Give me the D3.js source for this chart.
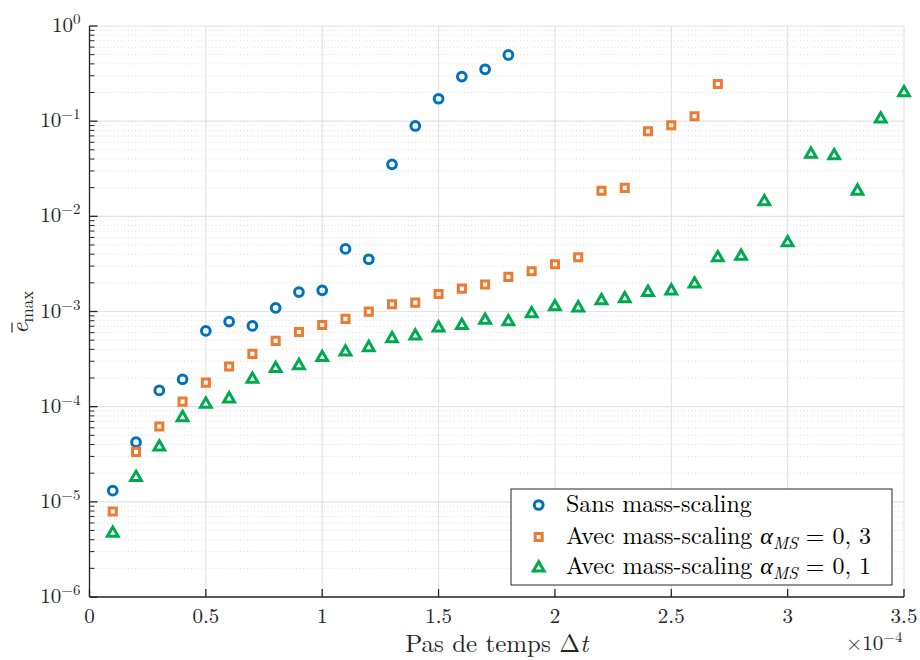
<!DOCTYPE html>
<html><head><meta charset="utf-8">
<script src="https://cdn.jsdelivr.net/npm/d3@7"></script>
<style>
body{margin:0;background:#fff;}
</style></head>
<body><svg id="c" width="920" height="660"></svg>
<script>
// x values in units of 1e-4
const dtSans = [0.1,0.2,0.3,0.4,0.5,0.6,0.7,0.8,0.9,1.0,1.1,1.2,1.3,1.4,1.5,1.6,1.7,1.8];
const eSans  = [1.31e-5,4.24e-5,1.48e-4,1.94e-4,6.25e-4,7.83e-4,7.06e-4,1.09e-3,1.60e-3,1.67e-3,4.55e-3,3.54e-3,0.0352,0.089,0.172,0.294,0.351,0.496];
const dtMS3  = [0.1,0.2,0.3,0.4,0.5,0.6,0.7,0.8,0.9,1.0,1.1,1.2,1.3,1.4,1.5,1.6,1.7,1.8,1.9,2.0,2.1,2.2,2.3,2.4,2.5,2.6,2.7];
const eMS3   = [7.9e-6,3.35e-5,6.18e-5,1.13e-4,1.79e-4,2.64e-4,3.59e-4,4.91e-4,6.1e-4,7.2e-4,8.36e-4,9.97e-4,1.19e-3,1.24e-3,1.53e-3,1.74e-3,1.92e-3,2.31e-3,2.65e-3,3.14e-3,3.72e-3,0.0186,0.0199,0.0783,0.0906,0.1125,0.246];
const dtMS1  = [0.1,0.2,0.3,0.4,0.5,0.6,0.7,0.8,0.9,1.0,1.1,1.2,1.3,1.4,1.5,1.6,1.7,1.8,1.9,2.0,2.1,2.2,2.3,2.4,2.5,2.6,2.7,2.8,2.9,3.0,3.1,3.2,3.3,3.4,3.5];
const eMS1   = [4.8e-6,1.85e-5,3.87e-5,7.87e-5,1.09e-4,1.24e-4,1.99e-4,2.58e-4,2.77e-4,3.37e-4,3.86e-4,4.28e-4,5.32e-4,5.68e-4,6.9e-4,7.3e-4,8.3e-4,8.0e-4,9.7e-4,1.15e-3,1.12e-3,1.33e-3,1.40e-3,1.63e-3,1.69e-3,2.0e-3,3.77e-3,3.90e-3,0.0146,5.42e-3,0.046,0.0445,0.0189,0.108,0.204];
const xTicks = [0,0.5,1,1.5,2,2.5,3,3.5];
const xTickLabels = ["0","0.5","1","1.5","2","2.5","3","3.5"];
const yExps = [0,-1,-2,-3,-4,-5,-6];
const seriesNames = ["Sans mass-scaling","Avec mass-scaling","Avec mass-scaling"];

const FONT = '"Latin Modern Roman", "Liberation Serif", serif';
const svg = d3.select("#c");
const L=89.5, R=904, T=26, B=597;
const x = d3.scaleLinear().domain([0,3.5]).range([L,R]);
const y = d3.scaleLog().domain([1e-6,1]).range([B,T]);

// grid
const g = svg.append("g");
const minorY=[];
for(let e=-6;e<0;e++) for(let k=2;k<=9;k++) minorY.push(k*Math.pow(10,e));
g.selectAll(".my").data(minorY).enter().append("line")
 .attr("x1",L).attr("x2",R).attr("y1",d=>y(d)).attr("y2",d=>y(d))
 .attr("stroke","#d4d4d4").attr("stroke-width",0.8).attr("stroke-dasharray","1,2.5");
g.selectAll(".gy").data(yExps).enter().append("line")
 .attr("x1",L).attr("x2",R).attr("y1",d=>y(Math.pow(10,d))).attr("y2",d=>y(Math.pow(10,d)))
 .attr("stroke","#e3e3e3").attr("stroke-width",1.2);
g.selectAll(".gx").data(xTicks).enter().append("line")
 .attr("y1",T).attr("y2",B).attr("x1",d=>x(d)).attr("x2",d=>x(d))
 .attr("stroke","#e3e3e3").attr("stroke-width",1.2);

// axes
const ax = svg.append("g").attr("stroke","#262626").attr("stroke-width",1.3);
ax.append("line").attr("x1",L).attr("x2",R).attr("y1",B).attr("y2",B);
ax.append("line").attr("x1",L).attr("x2",L).attr("y1",T).attr("y2",B);
ax.selectAll(".xt").data(xTicks).enter().append("line")
 .attr("x1",d=>x(d)).attr("x2",d=>x(d)).attr("y1",B).attr("y2",B-8);
ax.selectAll(".yt").data(yExps).enter().append("line")
 .attr("x1",L).attr("x2",L+8).attr("y1",d=>y(Math.pow(10,d))).attr("y2",d=>y(Math.pow(10,d)));
ax.selectAll(".ymt").data(minorY).enter().append("line")
 .attr("x1",L).attr("x2",L+5).attr("y1",d=>y(d)).attr("y2",d=>y(d)).attr("stroke-width",1);

// tick labels
svg.selectAll(".xl").data(xTicks).enter().append("text")
 .style("font-family",FONT)
 .attr("x",d=>x(d)).attr("y",623).attr("text-anchor","middle")
 .attr("font-size",21).attr("fill","#262626").text((d,i)=>xTickLabels[i]);
const yl = svg.selectAll(".yl").data(yExps).enter().append("text")
 .style("font-family",FONT)
 .attr("x",L-9).attr("y",d=>y(Math.pow(10,d))+6).attr("text-anchor","end")
 .attr("font-size",21).attr("fill","#262626");
yl.append("tspan").text("10");
yl.append("tspan").attr("dy",-8).attr("font-size",15).text(d=>d===0?"0":"\u2212"+(-d));

// x label
const xlab = svg.append("text").style("font-family",FONT).attr("x",(L+R)/2).attr("y",652).attr("text-anchor","middle")
 .attr("font-size",25).attr("fill","#262626");
xlab.append("tspan").text("Pas de temps \u0394");
xlab.append("tspan").attr("font-style","italic").text("t");
// multiplier
const mul = svg.append("text").style("font-family",FONT).attr("x",846).attr("y",650).attr("font-size",21).attr("fill","#262626");
mul.append("tspan").text("\u00d710");
mul.append("tspan").attr("dy",-8).attr("font-size",15).text("\u22124");

// y label: e-bar with subscript max
const ylg = svg.append("g").attr("transform","translate(28,334) rotate(-90)");
const ylab = ylg.append("text").style("font-family",FONT).attr("x",0).attr("y",0)
 .attr("font-size",25).attr("fill","#262626");
ylab.append("tspan").attr("font-style","italic").text("e");
ylab.append("tspan").attr("dy",5).attr("font-size",17).text("max");
ylg.append("line").attr("x1",1.5).attr("x2",11.5).attr("y1",-16).attr("y2",-16)
 .attr("stroke","#262626").attr("stroke-width",1.2);

// markers
const blue="#0072BD", orange="#EC7A33", green="#00A94F";
const sym = {
  circle: d3.symbol().type(d3.symbolCircle).size(60),
  square: d3.symbol().type(d3.symbolSquare).size(50),
  tri: d3.symbol().type(d3.symbolTriangle).size(50)
};
const pl = svg.append("g").attr("fill","none");
pl.selectAll(".s").data(dtSans.map((d,i)=>[d,eSans[i]])).enter().append("path")
 .attr("d",sym.circle).attr("transform",d=>`translate(${x(d[0])},${y(d[1])})`)
 .attr("stroke",blue).attr("stroke-width",3);
pl.selectAll(".m3").data(dtMS3.map((d,i)=>[d,eMS3[i]])).enter().append("path")
 .attr("d",sym.square).attr("transform",d=>`translate(${x(d[0])},${y(d[1])})`)
 .attr("stroke",orange).attr("stroke-width",3);
pl.selectAll(".m1").data(dtMS1.map((d,i)=>[d,eMS1[i]])).enter().append("path")
 .attr("d",sym.tri).attr("transform",d=>`translate(${x(d[0])},${y(d[1])+1})`)
 .attr("stroke",green).attr("stroke-width",3).attr("stroke-linejoin","miter");

// legend
const lg = svg.append("g");
lg.append("rect").attr("x",511).attr("y",489).attr("width",381).attr("height",96)
 .attr("fill","#fff").attr("stroke","#262626").attr("stroke-width",1);
const rows=[505,537,567];
const lsyms=[sym.circle,sym.square,sym.tri], lcol=[blue,orange,green], alphas=[null,"0, 3","0, 1"];
rows.forEach((ry,i)=>{
  lg.append("path").attr("d",lsyms[i]).attr("transform",`translate(538.7,${ry+(i===2?1:0)})`)
    .attr("fill","none").attr("stroke",lcol[i]).attr("stroke-width",3);
  const t = lg.append("text").style("font-family",FONT).attr("x",566).attr("y",ry+7).attr("font-size",24).attr("fill","#000");
  t.append("tspan").text(seriesNames[i]);
  if(alphas[i]){
    t.append("tspan").text(" ");
    t.append("tspan").attr("font-style","italic").text("\u03b1");
    t.append("tspan").attr("font-style","italic").attr("font-size",17).attr("dy",5).text("MS");
    t.append("tspan").attr("dy",-5).text(" = "+alphas[i]);
  }
});
</script></body></html>
